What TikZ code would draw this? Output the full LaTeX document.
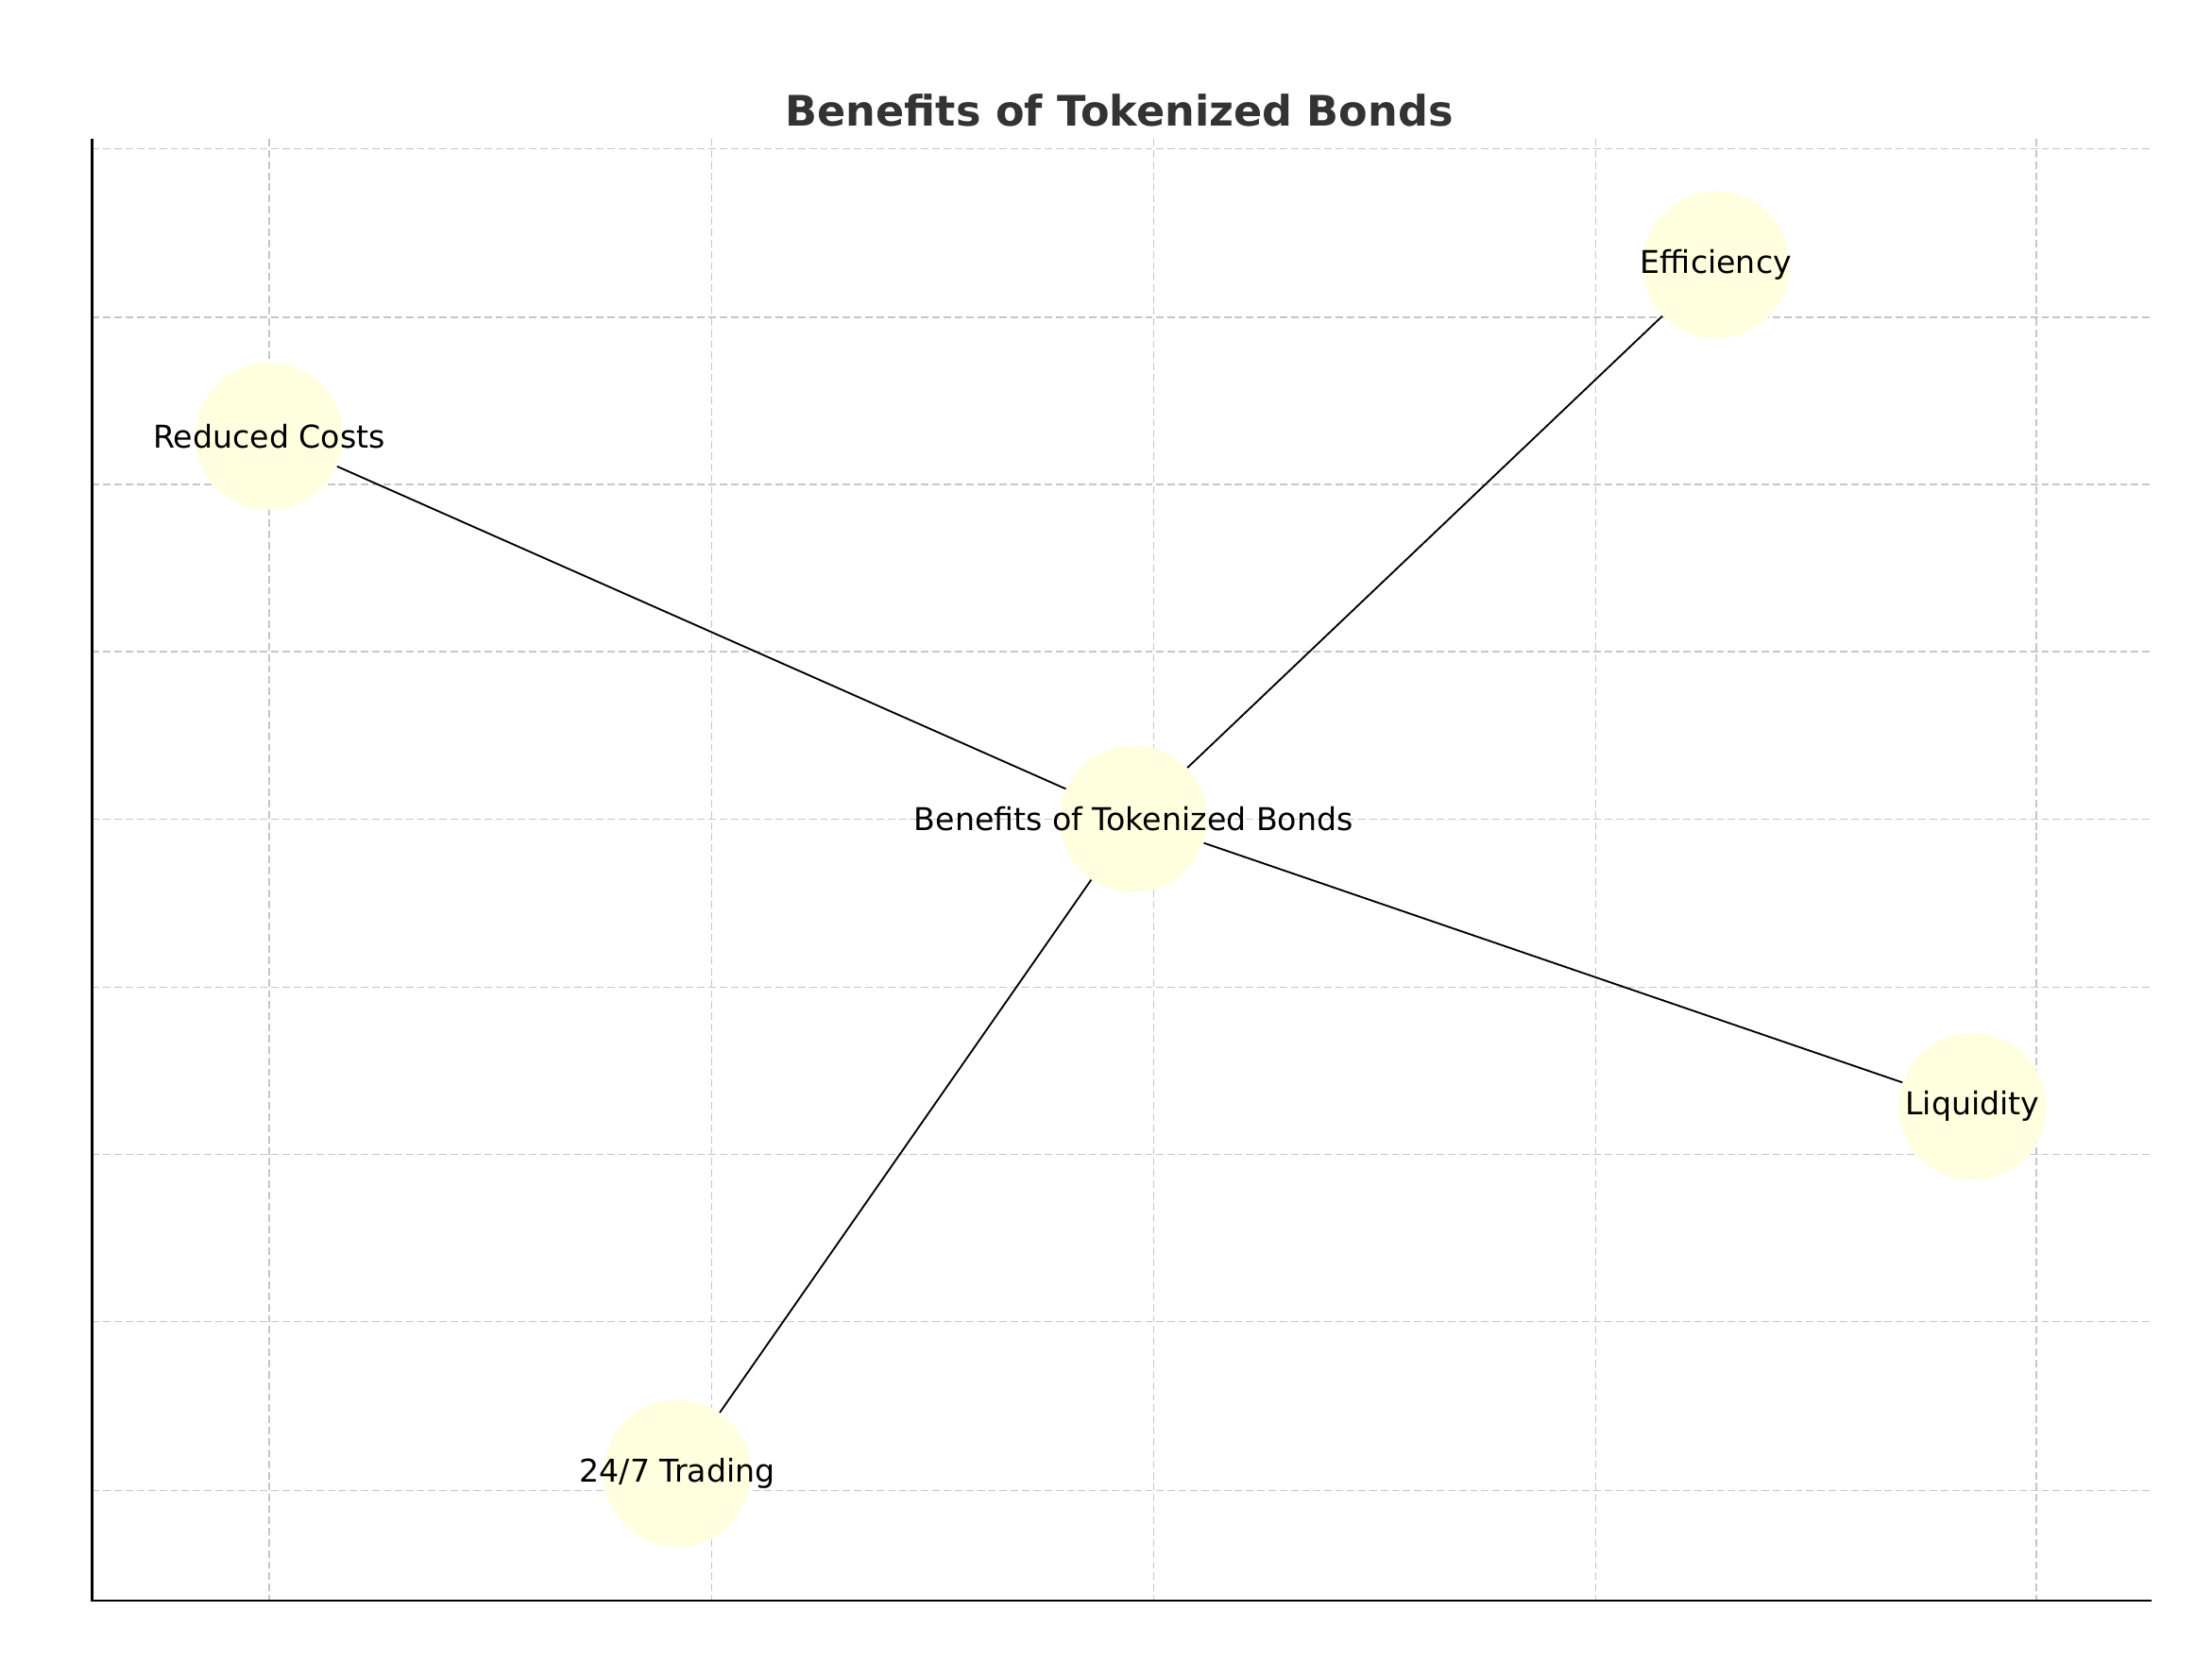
\documentclass[tikz,border=0pt]{standalone}
\usepackage{fontspec}
\setmainfont{DejaVu Sans}
\usetikzlibrary{positioning}
\definecolor{nodefill}{HTML}{FFFFE0}
\definecolor{titlegray}{HTML}{333333}
\tikzset{
	benefit/.style={circle,fill=nodefill,minimum size=2.08cm,inner sep=0pt},
	tag/.style={font=\fontsize{12.6}{15}\selectfont},
	gridline/.style={gray!45,dash pattern=on 3pt off 1.5pt,line width=0.5pt},
	link/.style={black,line width=0.7pt}
}
\begin{document}
\begin{tikzpicture}[x=0.02cm,y=-0.02cm]
		\useasboundingbox (0,0) rectangle (1561,1185);
		% grid
		\foreach \gx in {190,502,814,1126,1437}
			\draw[gridline] (\gx,98) -- (\gx,1130);
		\foreach \gy in {105,224,342,460,578,697,815,933,1052}
			\draw[gridline] (65,\gy) -- (1518,\gy);
		\draw[line width=0.8pt] (65,98) -- (65,1130) -- (1518,1130);
		\node[font=\bfseries\fontsize{16.9}{20}\selectfont,text=titlegray] (title) at (790,78) {Benefits of Tokenized Bonds};
		% network
		\node[benefit] (hub) at (800,578) {};
		\node[benefit] (eff) at (1211,187) {};
		\node[benefit] (cost) at (190,308) {};
		\node[benefit] (liq) at (1392,781) {};
		\node[benefit] (trade) at (478,1040) {};
		\path[link]
			(hub) edge (eff)
			(hub) edge (cost)
			(hub) edge (liq)
			(hub) edge (trade);
		\node[tag] at (hub) {Benefits of Tokenized Bonds};
		\node[tag] at (eff) {Efficiency};
		\node[tag] at (cost) {Reduced Costs};
		\node[tag] at (liq) {Liquidity};
		\node[tag] at (trade) {24/7 Trading};
	\end{tikzpicture}
\end{document}
